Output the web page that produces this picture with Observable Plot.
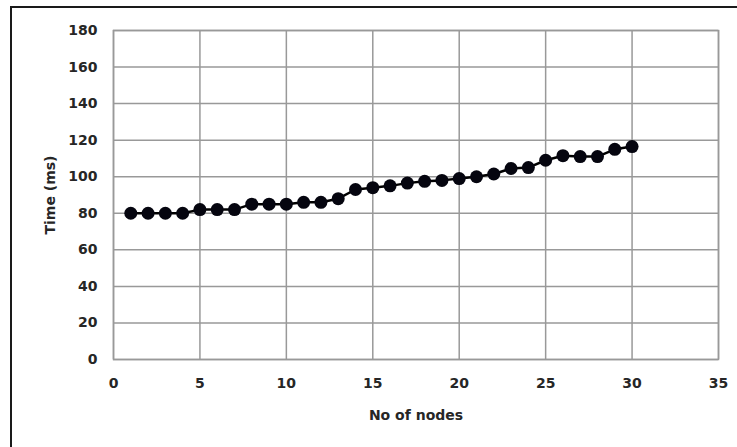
<!DOCTYPE html>
<html>
<head>
<meta charset="utf-8">
<script src="https://cdn.jsdelivr.net/npm/d3@7"></script>
<script src="https://cdn.jsdelivr.net/npm/@observablehq/plot@0.6"></script>
<style>
  html, body { margin: 0; padding: 0; background: #fff; }
  #wrap { position: relative; width: 737px; height: 447px; overflow: hidden; }
  #border { position: absolute; left: 10px; top: 6px; width: 900px; height: 600px;
            border-left: 2px solid #1a1a1a; border-top: 2px solid #1a1a1a; pointer-events: none; }
  #chart { position: absolute; left: 0; top: 0; }
</style>
</head>
<body>
<div id="wrap"><div id="chart"></div><div id="border"></div></div>
<script>
const nodes = [1,2,3,4,5,6,7,8,9,10,11,12,13,14,15,16,17,18,19,20,21,22,23,24,25,26,27,28,29,30];
const timeMs = [80,80,80,80,82,82,82,85,85,85,86,86,88,93,94,95,96.5,97.5,98,99,100,101.5,104.5,105,109,111.5,111,111,115,116.5];
const xTicks = [0,5,10,15,20,25,30,35];
const yTicks = [0,20,40,60,80,100,120,140,160,180];

const data = nodes.map((n, i) => ({n, t: timeMs[i]}));

const chart = Plot.plot({
  width: 737,
  height: 447,
  marginLeft: 113,
  marginRight: 19,
  marginTop: 30,
  marginBottom: 88,
  x: {domain: [0, 35]},
  y: {domain: [0, 180]},
  style: {fontFamily: "DejaVu Sans", fontSize: "14px", fontWeight: "bold", color: "#262626", background: "transparent"},
  marks: [
    Plot.gridX(xTicks, {stroke: "#999", strokeOpacity: 1, strokeWidth: 1.5}),
    Plot.gridY(yTicks, {stroke: "#999", strokeOpacity: 1, strokeWidth: 1.5}),
    Plot.frame({stroke: "#999", strokeWidth: 1.5}),
    Plot.axisX(xTicks, {tickSize: 0, tickPadding: 19, label: "No of nodes", labelAnchor: "center", labelOffset: 60, labelArrow: "none"}),
    Plot.axisY(yTicks, {tickSize: 0, tickPadding: 16, label: "Time (ms)", labelAnchor: "center", labelOffset: 68, labelArrow: "none"}),
    Plot.line(data, {x: "n", y: "t", stroke: "#000", strokeWidth: 2.5}),
    Plot.dot(data, {x: "n", y: "t", r: 6.5, fill: "#05050f", stroke: "none"})
  ]
});
document.getElementById("chart").appendChild(chart);
</script>
</body>
</html>
